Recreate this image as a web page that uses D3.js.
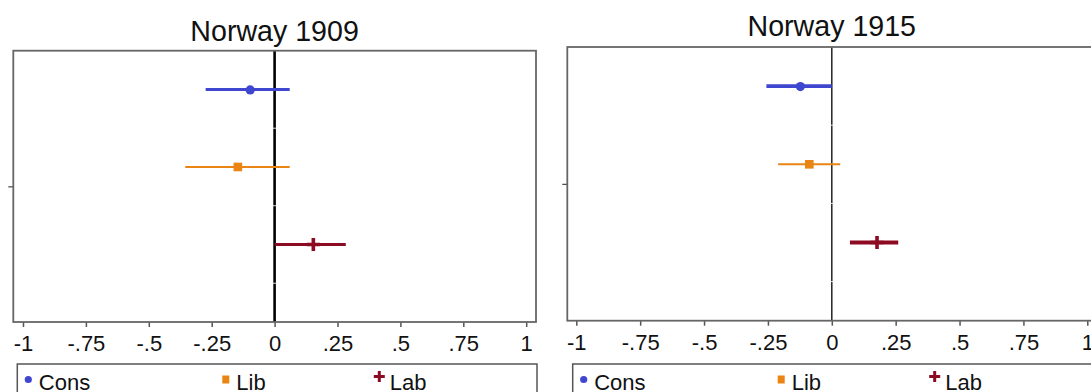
<!DOCTYPE html>
<html>
<head>
<meta charset="utf-8">
<script src="https://cdn.jsdelivr.net/npm/d3@7"></script>
<style>
  html, body { margin: 0; padding: 0; background: #fff; }
  svg { display: block; font-family: "Liberation Sans", Arial, sans-serif; }
</style>
</head>
<body>
<svg id="chart" width="1091" height="392"></svg>
<script>
// ---------- data ----------
const categories = ["Cons", "Lib", "Lab"];
const panelTitles = ["Norway 1909", "Norway 1915"];

const est1909 = [-0.097, -0.146, 0.154];
const lo1909  = [-0.274, -0.355, 0.000];
const hi1909  = [ 0.060,  0.060, 0.283];

const est1915 = [-0.123, -0.088, 0.177];
const lo1915  = [-0.256, -0.210, 0.071];
const hi1915  = [ 0.000,  0.033, 0.260];

const xTickValues = [-1, -0.75, -0.5, -0.25, 0, 0.25, 0.5, 0.75, 1];
const xTickLabels = ["-1", "-.75", "-.5", "-.25", "0", ".25", ".5", ".75", "1"];
const yTickValues = [2.25];

// ---------- styling / layout ----------
const colors = ["#3f46cf", "#ea8412", "#8c0a22"];

const panelLayouts = [
  { box: [13.3, 536, 50.7, 322], xr: [23, 526.2], titleY: 40.7, zeroW: 2.6, zeroC: "#000",
    barW: [3, 2, 3.2], legend: [17.3, 537, 364], est: est1909, lo: lo1909, hi: hi1909 },
  { box: [567.3, 1096.5, 47, 320.7], xr: [576.3, 1087.3], titleY: 36, zeroW: 1.5, zeroC: "#222",
    barW: [3.8, 2, 3.8], legend: [572.7, 1101, 364], est: est1915, lo: lo1915, hi: hi1915 }
];

const svg = d3.select("#chart");

panelLayouts.forEach((p, pi) => {
  const [bx0, bx1, by0, by1] = p.box;
  const x = d3.scaleLinear().domain([-1, 1]).range(p.xr);
  const y = d3.scaleLinear().domain([0.5, 4]).range([by0, by1]);
  const g = svg.append("g");

  // title
  g.append("text")
    .attr("x", x(0)).attr("y", p.titleY)
    .attr("text-anchor", "middle")
    .attr("font-size", 28.6).attr("fill", "#111")
    .text(panelTitles[pi]);

  // zero reference line
  g.append("line")
    .attr("x1", x(0)).attr("x2", x(0))
    .attr("y1", by0).attr("y2", by1)
    .attr("stroke", p.zeroC).attr("stroke-width", p.zeroW);

  // faint white gridlines (visible only where they cross the zero line)
  g.selectAll("line.grid").data([1.5, 2.5, 3.5]).enter().append("line")
    .attr("class", "grid")
    .attr("x1", bx0 + 2).attr("x2", bx1 - 2)
    .attr("y1", d => y(d)).attr("y2", d => y(d))
    .attr("stroke", "#fff").attr("stroke-width", 1).attr("opacity", 0.85);

  // x axis
  const xAxis = d3.axisBottom(x)
    .tickValues(xTickValues)
    .tickFormat((d, i) => xTickLabels[i])
    .tickSize(5).tickSizeOuter(0).tickPadding(8);
  const xa = g.append("g").attr("transform", `translate(0,${by1})`).call(xAxis);
  xa.select(".domain").remove();
  xa.selectAll(".tick line").attr("stroke", "#555").attr("stroke-width", 1.5);
  xa.selectAll(".tick text")
    .attr("font-size", 22).attr("fill", "#111")
    .attr("font-family", "'Liberation Sans', Arial, sans-serif")
    .attr("dy", "0.72em");

  // y axis (blank label tick)
  const yAxis = d3.axisLeft(y).tickValues(yTickValues).tickFormat("").tickSize(5).tickSizeOuter(0);
  const ya = g.append("g").attr("transform", `translate(${bx0},0)`).call(yAxis);
  ya.select(".domain").remove();
  ya.selectAll(".tick line").attr("stroke", "#444").attr("stroke-width", 1.2);

  // plot frame
  g.append("rect")
    .attr("x", bx0).attr("y", by0)
    .attr("width", bx1 - bx0).attr("height", by1 - by0)
    .attr("fill", "none").attr("stroke", "#666").attr("stroke-width", 1.8);

  // confidence intervals
  categories.forEach((c, i) => {
    const yy = y(i + 1);
    g.append("line")
      .attr("x1", x(p.lo[i])).attr("x2", x(p.hi[i]))
      .attr("y1", yy).attr("y2", yy)
      .attr("stroke", colors[i]).attr("stroke-width", p.barW[i]);
  });

  // point markers
  const cx0 = x(p.est[0]), cy0 = y(1);
  g.append("circle").attr("cx", cx0).attr("cy", cy0 + 0.5).attr("r", 4.6).attr("fill", colors[0]);
  const cx1 = x(p.est[1]), cy1 = y(2);
  g.append("rect").attr("x", cx1 - 4.3).attr("y", cy1 - 4.3).attr("width", 8.6).attr("height", 8.6).attr("fill", colors[1]);
  const cx2 = x(p.est[2]), cy2 = y(3);
  g.append("path")
    .attr("d", `M${cx2 - 6.5},${cy2}H${cx2 + 6.5}M${cx2},${cy2 - 6.5}V${cy2 + 6.5}`)
    .attr("stroke", colors[2]).attr("stroke-width", 3.6).attr("fill", "none");

  // legend
  const [lx0, lx1, ly0] = p.legend;
  g.append("rect")
    .attr("x", lx0).attr("y", ly0)
    .attr("width", lx1 - lx0).attr("height", 40)
    .attr("fill", "#fff").attr("stroke", "#555").attr("stroke-width", 1.5);
  const legY = 379.5;
  const keyOffsets = [11, 208.5, 362];
  categories.forEach((c, i) => {
    const kx = lx0 + keyOffsets[i];
    if (i === 0) {
      g.append("circle").attr("cx", kx).attr("cy", legY).attr("r", 3.6).attr("fill", colors[0]);
    } else if (i === 1) {
      g.append("rect").attr("x", kx - 3.5).attr("y", legY - 4).attr("width", 7).attr("height", 8).attr("fill", colors[1]);
    } else {
      g.append("path")
        .attr("d", `M${kx - 5.5},${legY - 3}H${kx + 5.5}M${kx},${legY - 8.5}V${legY + 2.5}`)
        .attr("stroke", colors[2]).attr("stroke-width", 3).attr("fill", "none");
    }
    g.append("text")
      .attr("x", kx + 10.5).attr("y", 389.5)
      .attr("font-size", 22).attr("fill", "#111")
      .text(c);
  });
});
</script>
</body>
</html>
